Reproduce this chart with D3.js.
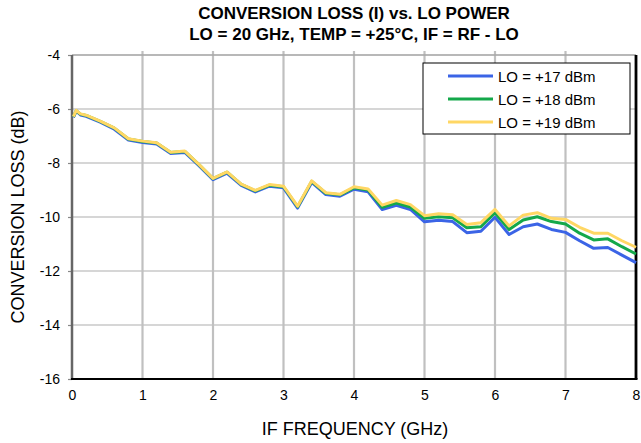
<!DOCTYPE html>
<html><head><meta charset="utf-8">
<script src="https://cdn.jsdelivr.net/npm/d3@7"></script>
<style>body{margin:0;background:#fff}svg{display:block;font-family:"Liberation Sans",Arial,Helvetica,sans-serif}</style>
</head><body><svg id="c" width="641" height="443"></svg>
<script>
const freq = [0.02,0.06,0.12,0.2,0.4,0.6,0.8,1.0,1.2,1.4,1.6,1.8,2.0,2.2,2.4,2.6,2.8,3.0,3.2,3.4,3.6,3.8,4.0,4.2,4.4,4.6,4.8,5.0,5.2,5.4,5.6,5.8,6.0,6.2,6.4,6.6,6.8,7.0,7.2,7.4,7.6,7.8,8.0];
const lo17 = [-6.31,-6.08,-6.22,-6.27,-6.49,-6.75,-7.15,-7.24,-7.3,-7.65,-7.61,-8.1,-8.62,-8.38,-8.83,-9.07,-8.86,-8.92,-9.67,-8.72,-9.17,-9.23,-8.97,-9.07,-9.72,-9.57,-9.72,-10.18,-10.12,-10.17,-10.58,-10.53,-10.01,-10.65,-10.36,-10.26,-10.46,-10.57,-10.88,-11.16,-11.13,-11.41,-11.69];
const lo18 = [-6.29,-6.06,-6.19,-6.24,-6.46,-6.71,-7.11,-7.2,-7.26,-7.61,-7.57,-8.06,-8.58,-8.34,-8.79,-9.03,-8.82,-8.88,-9.62,-8.68,-9.12,-9.18,-8.92,-9.0,-9.64,-9.48,-9.63,-10.05,-9.99,-10.03,-10.4,-10.36,-9.84,-10.46,-10.11,-9.99,-10.17,-10.26,-10.6,-10.85,-10.81,-11.1,-11.37];
const lo19 = [-6.28,-6.05,-6.18,-6.23,-6.45,-6.7,-7.1,-7.19,-7.25,-7.6,-7.56,-8.05,-8.57,-8.33,-8.78,-9.01,-8.8,-8.86,-9.6,-8.66,-9.1,-9.16,-8.88,-8.96,-9.56,-9.39,-9.54,-9.95,-9.88,-9.92,-10.28,-10.21,-9.72,-10.33,-9.93,-9.84,-10.05,-10.09,-10.38,-10.6,-10.6,-10.88,-11.12];
const seriesNames = ["LO = +17 dBm","LO = +18 dBm","LO = +19 dBm"];
const xTicks = [0,1,2,3,4,5,6,7,8];
const yTicks = [-4,-6,-8,-10,-12,-14,-16];
const titleLines = ["CONVERSION LOSS (I) vs. LO POWER","LO = 20 GHz, TEMP = +25\u00B0C, IF = RF - LO"];
const xLabel = "IF FREQUENCY (GHz)";
const yLabel = "CONVERSION LOSS (dB)";
const colors = ["#3b64e6","#14a84a","#ffd764"];

const L=72, R=636, T=55, B=379;
const svg = d3.select("#c");
const x = d3.scaleLinear().domain([0,8]).range([L,R]);
const y = d3.scaleLinear().domain([-16,-4]).range([B,T]);
const fmt = d => String(d); // plain hyphen-minus as in the reference

// grid
svg.append("g").selectAll("line").data(yTicks.filter(v=>v>-16)).join("line")
  .attr("x1",L).attr("x2",R).attr("y1",d=>y(d)).attr("y2",d=>y(d))
  .attr("stroke","#c8c8c8").attr("stroke-width",1.5);
svg.append("g").selectAll("line").data(xTicks.filter(v=>v>0&&v<8)).join("line")
  .attr("x1",d=>x(d)).attr("x2",d=>x(d)).attr("y1",T-4).attr("y2",B)
  .attr("stroke","#c0c0c0").attr("stroke-width",2.2);

// axes
const xa = svg.append("g").attr("transform",`translate(0,${B})`)
  .call(d3.axisBottom(x).tickValues(xTicks).tickSize(0).tickPadding(11).tickFormat(fmt));
xa.select(".domain").remove();
xa.selectAll("text").attr("font-size",14).attr("fill","#000").attr("font-family","Liberation Sans, Arial, sans-serif");
const ya = svg.append("g").attr("transform",`translate(${L},0)`)
  .call(d3.axisLeft(y).tickValues(yTicks).tickSize(4).tickPadding(8).tickFormat(fmt));
ya.select(".domain").remove();
ya.selectAll("line").attr("stroke","#888").attr("stroke-width",1.2);
ya.selectAll("text").attr("font-size",14).attr("fill","#000").attr("font-family","Liberation Sans, Arial, sans-serif");

svg.append("line").attr("x1",L).attr("x2",R).attr("y1",T).attr("y2",T).attr("stroke","#9a9a9a").attr("stroke-width",1.2);
svg.append("line").attr("x1",L).attr("x2",L).attr("y1",T).attr("y2",B+1).attr("stroke","#666").attr("stroke-width",2.5);
svg.append("line").attr("x1",L-1).attr("x2",R+1.5).attr("y1",B).attr("y2",B).attr("stroke","#000").attr("stroke-width",2.2);
svg.append("line").attr("x1",R).attr("x2",R).attr("y1",T).attr("y2",B).attr("stroke","#000").attr("stroke-width",2.8);

// lines
const data = [lo17,lo18,lo19];
const line = d3.line().x((d,i)=>x(freq[i])).y(d=>y(d));
data.forEach((s,k)=>{
  svg.append("path").datum(s).attr("d",line).attr("fill","none")
    .attr("stroke",colors[k]).attr("stroke-width",3).attr("stroke-linejoin","round");
});

// legend
const lg = svg.append("g");
lg.append("rect").attr("x",423).attr("y",63).attr("width",207).attr("height",71)
  .attr("fill","#fff").attr("stroke","#000").attr("stroke-width",1);
const ly = [76,99,122];
seriesNames.forEach((n,k)=>{
  lg.append("line").attr("x1",448).attr("x2",493).attr("y1",ly[k]).attr("y2",ly[k])
    .attr("stroke",colors[k]).attr("stroke-width",3);
  lg.append("text").attr("x",498).attr("y",ly[k]+5.5).attr("font-size",15).text(n);
});

// titles
titleLines.forEach((t,i)=>{
  svg.append("text").attr("x",354).attr("y",19+i*21).attr("text-anchor","middle")
    .attr("font-size",17).attr("font-weight","bold").text(t);
});
svg.append("text").attr("x",355).attr("y",435).attr("text-anchor","middle").attr("font-size",18).text(xLabel);
svg.append("text").attr("transform","translate(24,217) rotate(-90)").attr("text-anchor","middle").attr("font-size",18).text(yLabel);
</script></body></html>
